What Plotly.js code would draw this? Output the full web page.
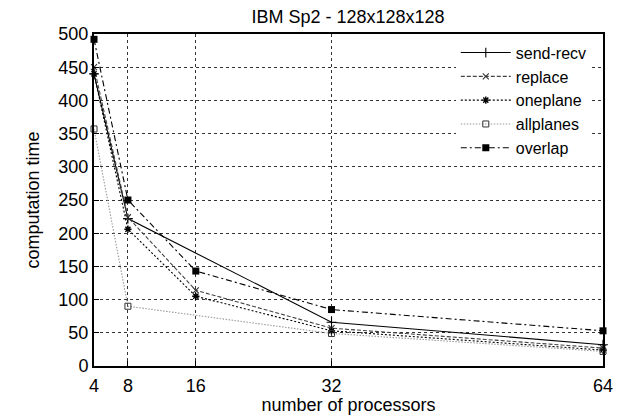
<!DOCTYPE html>
<html>
<head>
<meta charset="utf-8">
<script src="https://cdn.plot.ly/plotly-3.0.1.min.js"></script>
<style>html,body{margin:0;padding:0;background:#fff;}#chart{width:621px;height:415px;}</style>
</head>
<body>
<div id="chart"></div>
<script>
const procs = [4, 8, 16, 32, 64];
const procsNo16 = [4, 8, 32, 64];
const sendRecv = [440, 222, 66, 32];
const replace = [450, 224, 114, 57, 27];
const oneplane = [440, 206, 105, 53, 24];
const allplanes = [357, 90, 49, 22];
const overlap = [492, 250, 143, 85, 53];
const xTicks = [4, 8, 16, 32, 64];

const font = {family: 'Liberation Sans, Arial, Helvetica, sans-serif', size: 18, color: '#000'};
const legendFont = {family: 'Liberation Sans, Arial, Helvetica, sans-serif', size: 16, color: '#000'};

const traces = [
  {name: 'send-recv', x: procsNo16, y: sendRecv, mode: 'lines+markers',
   line: {color: '#000', width: 1.1, dash: 'solid'},
   marker: {symbol: 'cross-thin', size: 7, line: {color: '#000', width: 1.1}}},
  {name: 'replace', x: procs, y: replace, mode: 'lines+markers',
   line: {color: '#444', width: 1.1, dash: '4px,2px'},
   marker: {symbol: 'x-thin', size: 6, line: {color: '#333', width: 1.1}}},
  {name: 'oneplane', x: procs, y: oneplane, mode: 'lines+markers',
   line: {color: '#000', width: 1.1, dash: '2px,2px'},
   marker: {symbol: 'asterisk', size: 6, line: {color: '#000', width: 1.4}}},
  {name: 'allplanes', x: procsNo16, y: allplanes, mode: 'lines+markers',
   line: {color: '#999', width: 1.1, dash: '1.5px,1.5px'},
   marker: {symbol: 'square-open', size: 6, color: '#333', line: {color: '#333', width: 1}}},
  {name: 'overlap', x: procs, y: overlap, mode: 'lines+markers',
   line: {color: '#000', width: 1.1, dash: '6px,3px,2px,3px'},
   marker: {symbol: 'square', size: 7, color: '#000'}}
];
traces.forEach(t => t.cliponaxis = false);

const layout = {
  width: 621, height: 415,
  margin: {l: 94, r: 18, t: 34, b: 49},
  paper_bgcolor: '#fff', plot_bgcolor: '#fff',
  font: font,
  title: {text: 'IBM Sp2 - 128x128x128', font: font, x: 0.5605, xanchor: 'center', y: 0.96, yanchor: 'middle'},
  xaxis: {
    range: [4, 64], tickvals: xTicks, ticktext: xTicks.map(String),
    showgrid: true, gridcolor: '#333', griddash: 'dot', gridwidth: 1,
    showline: true, linecolor: '#000', linewidth: 2, mirror: true,
    ticks: 'inside', ticklen: 5, tickcolor: '#000',
    zeroline: false, tickfont: font, ticklabelstandoff: 2,
    title: {text: 'number of processors', font: font, standoff: 4}
  },
  yaxis: {
    range: [0, 500], dtick: 50, tick0: 0,
    showgrid: true, gridcolor: '#333', griddash: 'dot', gridwidth: 1,
    showline: true, linecolor: '#000', linewidth: 2, mirror: true,
    ticks: 'inside', ticklen: 5, tickcolor: '#000',
    zeroline: false, tickfont: font,
    title: {text: 'computation time', font: font, standoff: 14}
  },
  legend: {
    x: 0.978, xanchor: 'right', y: 0.995, yanchor: 'top',
    bgcolor: '#fff', borderwidth: 0, font: legendFont,
    tracegroupgap: 0, itemwidth: 50
  },
  showlegend: true
};

Plotly.newPlot('chart', traces, layout, {staticPlot: true, displayModeBar: false});
</script>
</body>
</html>
